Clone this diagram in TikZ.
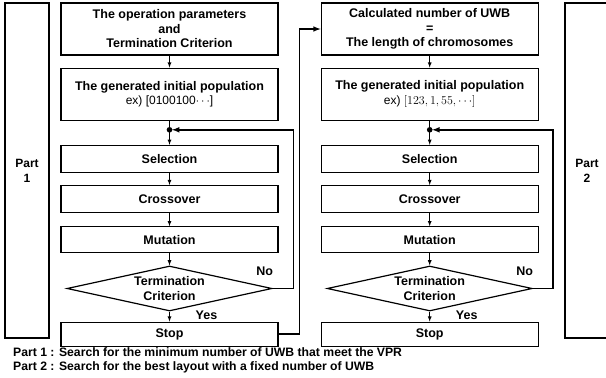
\documentclass[tikz,border=0pt]{standalone}
\usepackage{fontspec}
\setmainfont{Liberation Sans}
\usetikzlibrary{shapes.geometric, arrows, positioning}

\begin{document}
\begin{tikzpicture}[
    x=1pt, y=1pt,
    >=latex,
    box/.style={rectangle, draw, line width=1.2pt, minimum width=217pt, minimum height=27pt, align=center, inner sep=1pt, font=\fontsize{12.5}{14.5}\selectfont\bfseries},
    decision/.style={diamond, draw, line width=1.2pt, minimum width=205pt, minimum height=45pt, aspect=4.5, inner sep=0pt, align=center, font=\fontsize{12.5}{14.5}\selectfont\bfseries},
    partbox/.style={rectangle, draw, line width=1.2pt, minimum width=44pt, minimum height=335pt, align=center, font=\fontsize{12}{15}\selectfont\bfseries},
    flow/.style={->, line width=0.8pt},
    back/.style={->, line width=1.5pt},
    answer/.style={font=\fontsize{12.5}{13}\selectfont\bfseries, inner sep=0pt},
    note/.style={font=\fontsize{12.2}{13}\selectfont\bfseries, inner sep=0pt, anchor=west}
]
\useasboundingbox (0,0) rectangle (606,-378);

% Part frames
\node[partbox] (part1) at (27,-170.5) {Part\\1};
\node[partbox] (part2) at (587,-170.5) {Part\\2};

% Part 1 column
\node[box, minimum height=52pt] (params1) at (169.5,-29) {The operation parameters\\and\\Termination Criterion};
\node[box, minimum height=52pt, below=12pt of params1] (init1) {The generated initial population\\{\mdseries\fontsize{12}{15}\selectfont ex) [0100100$\cdots$]}};
\coordinate[below=9pt of init1] (dot1);
\node[box, below=15pt of dot1] (sel1) {Selection};
\node[box, below=12pt of sel1] (cross1) {Crossover};
\node[box, minimum height=26pt, below=13pt of cross1] (mut1) {Mutation};
\node[decision, below=12pt of mut1] (term1) {Termination\\Criterion};
\node[box, minimum height=24pt, below=10pt of term1] (stop1) {Stop};

% Part 2 column
\node[box, minimum height=52pt, right=42pt of params1] (params2) {Calculated number of UWB\\=\\The length of chromosomes};
\node[box, minimum height=52pt, below=12pt of params2] (init2) {The generated initial population\\{\mdseries\fontsize{12}{15}\selectfont ex) $[123, 1, 55, \cdots]$}};
\coordinate[below=9pt of init2] (dot2);
\node[box, below=15pt of dot2] (sel2) {Selection};
\node[box, below=12pt of sel2] (cross2) {Crossover};
\node[box, minimum height=26pt, below=13pt of cross2] (mut2) {Mutation};
\node[decision, below=12pt of mut2] (term2) {Termination\\Criterion};
\node[box, minimum height=24pt, below=10pt of term2] (stop2) {Stop};

% Arrows
\draw[flow] (params1) -- (init1);
\draw[line width=0.8pt] (init1) -- (dot1);
\fill (dot1) circle (2.8pt);
\draw[flow] (dot1) -- (sel1);
\draw[flow] (sel1) -- (cross1);
\draw[flow] (cross1) -- (mut1);
\draw[flow] (mut1) -- (term1);
\draw[flow] (term1) -- (stop1);
\draw[back, shorten >=2.5pt] (term1.east) -- ++(21,0) |- (dot1);

\draw[back] (stop1.east) -- ++(21,0) |- (params2.west);

\draw[flow] (params2) -- (init2);
\draw[line width=0.8pt] (init2) -- (dot2);
\fill (dot2) circle (2.8pt);
\draw[flow] (dot2) -- (sel2);
\draw[flow] (sel2) -- (cross2);
\draw[flow] (cross2) -- (mut2);
\draw[flow] (mut2) -- (term2);
\draw[flow] (term2) -- (stop2);
\draw[back, shorten >=2.5pt] (term2.east) -- ++(20,0) |- (dot2);

% Labels
\node[answer] (no1) at ([xshift=-8pt, yshift=17pt]term1.east) {No};
\node[answer] (yes1) at ([xshift=37pt, yshift=-4pt]term1.south) {Yes};
\node[answer] (no2) at ([xshift=-8pt, yshift=17pt]term2.east) {No};
\node[answer] (yes2) at ([xshift=37pt, yshift=-4pt]term2.south) {Yes};

% Legend
\node[note] (note1) at (13,-352) {Part 1 : Search for the minimum number of UWB that meet the VPR};
\node[note] (note2) at (13,-367) {Part 2 : Search for the best layout with a fixed number of UWB};

\end{tikzpicture}
\end{document}
